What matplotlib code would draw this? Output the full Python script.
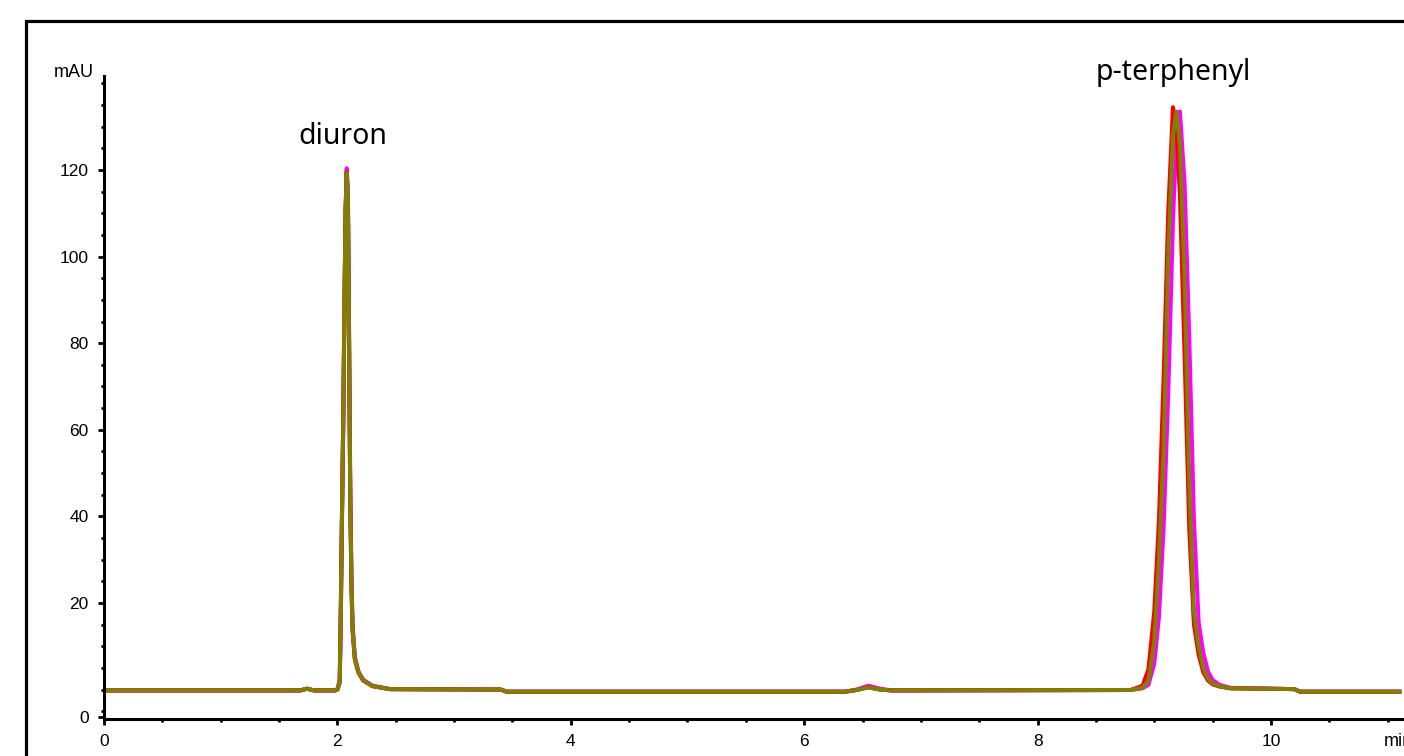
import numpy as np
import matplotlib
matplotlib.use('Agg')
import matplotlib.pyplot as plt
from matplotlib.patches import Rectangle
from matplotlib.ticker import MultipleLocator

# retention time (min), shared by all four runs
t = [0.00, 1.00, 1.68, 1.74, 1.80, 1.98,
     2.00, 2.02, 2.03, 2.04, 2.05, 2.06, 2.07, 2.08, 2.09, 2.10,
     2.11, 2.12, 2.13, 2.15, 2.18, 2.22, 2.30, 2.45,
     3.40, 3.45, 6.35, 6.45, 6.55, 6.65, 6.75,
     8.80, 8.90, 8.95, 9.00, 9.04, 9.08, 9.12, 9.16, 9.19, 9.22,
     9.26, 9.30, 9.34, 9.38, 9.42, 9.46, 9.50, 9.56, 9.65,
     10.20, 10.25, 11.10]

# signal (mAU) for each run
sig_blue = [-0.2, -0.2, -0.2, 0.2, -0.2, -0.2,
            0.0, 1.8, 19, 41, 61, 87, 110, 119.8, 114, 82,
            46, 26, 14.5, 7.2, 4.1, 2.2, 0.8, 0.1,
            0.0, -0.5, -0.5, -0.1, 0.5, 0.0, -0.2,
            -0.1, 0.6, 3.4, 14.8, 35, 64, 106, 130, 132.5, 120,
            86, 42, 16.4, 9, 4.5, 2.3, 1.3, 0.75, 0.3,
            0.1, -0.5, -0.5]
sig_magenta = [-0.2, -0.2, -0.2, 0.2, -0.2, -0.2,
               0.0, 1.5, 17, 40, 60, 86, 110, 120.4, 115, 84,
               48, 27, 15, 7.5, 4.2, 2.3, 0.9, 0.1,
               0.0, -0.5, -0.5, 0.0, 0.9, 0.2, -0.2,
               -0.1, 0.3, 1.1, 6, 16.7, 37.5, 68.5, 108, 128.4, 133.5,
               116.7, 81, 39, 15.6, 8.5, 4.2, 2.2, 1.1, 0.4,
               0.1, -0.5, -0.5]
sig_red = [-0.2, -0.2, -0.2, 0.2, -0.2, -0.2,
           0.0, 2.2, 21, 43, 63, 89, 111, 119.5, 112, 78,
           44, 24, 13.5, 6.8, 3.9, 2.1, 0.8, 0.1,
           0.0, -0.5, -0.5, -0.1, 0.6, 0.0, -0.2,
           -0.1, 0.9, 4.7, 18, 39, 72, 110.5, 134.5, 130, 114,
           77, 37, 15, 8.1, 4, 2.1, 1.2, 0.7, 0.3,
           0.1, -0.5, -0.5]
sig_olive = [-0.2, -0.2, -0.2, 0.2, -0.2, -0.2,
             0.0, 2.0, 20, 42, 62, 88, 110, 119.3, 113, 80,
             45, 25, 14, 7, 4, 2.2, 0.8, 0.1,
             0.0, -0.5, -0.5, -0.1, 0.5, 0.0, -0.2,
             -0.1, 0.4, 2.0, 11, 30, 55, 100, 128, 133.5, 126,
             95, 48, 18, 10, 5, 2.5, 1.4, 0.8, 0.3,
             0.1, -0.5, -0.5]

runs = [(sig_blue, '#7070ff'), (sig_magenta, '#ff00ff'),
        (sig_red, '#ff0000'), (sig_olive, '#808000')]

peak_names = ['diuron', 'p-terphenyl']
peak_label_x = [2.05, 9.16]
peak_label_y = [126, 140.8]

x_major = [0, 2, 4, 6, 8, 10]
y_major = [20, 40, 60, 80, 100, 120]

fig = plt.figure(figsize=(14.04, 7.56), dpi=100)
fig.patch.set_facecolor('white')

# black frame of the report page
fig.patches.append(Rectangle((0.0185, -0.5), 2.0, 0.9716 + 0.5, fill=False,
                             lw=2.3, edgecolor='black', transform=fig.transFigure))

ax = fig.add_axes([104 / 1404, 37 / 756, 1 - 104 / 1404, 643 / 756])
for sig, col in runs:
    ax.plot(t, sig, color=col, lw=2.9, solid_joinstyle='round')

ax.set_xlim(0, 11.14)
ax.set_ylim(-6.8, 141.7)

for s in ['top', 'right']:
    ax.spines[s].set_visible(False)
for s in ['left', 'bottom']:
    ax.spines[s].set_linewidth(2.2)

tick_font = {'family': 'Liberation Sans', 'size': 12.5}

ax.set_xticks(x_major)
ax.set_xticklabels([str(v) for v in x_major], fontdict=tick_font)
ax.xaxis.set_minor_locator(MultipleLocator(0.5))

# the bottom "0" label sits on the axis line itself
ax.set_yticks([-6.3] + y_major)
ax.set_yticklabels(['0'] + [str(v) for v in y_major], fontdict=tick_font)
ax.yaxis.set_minor_locator(MultipleLocator(5))

ax.tick_params(which='major', length=4, width=2.0, pad=7, direction='out')
ax.tick_params(which='minor', length=2, width=2.0, direction='out')

ax.text(-0.09, 142.4, 'mAU', ha='right', va='center', clip_on=False,
        fontdict={'family': 'Liberation Sans', 'size': 13})
# cut by the page edge, as in the original printout
ax.text(10.97, -11.9, 'min', ha='left', va='center', clip_on=False,
        fontdict={'family': 'Liberation Sans', 'size': 13})

for name, px, py in zip(peak_names, peak_label_x, peak_label_y):
    ax.text(px, py, name, ha='center', va='baseline', clip_on=False,
            family='Noto Sans', fontsize=20.5)

fig.savefig('out.png', dpi=100)
